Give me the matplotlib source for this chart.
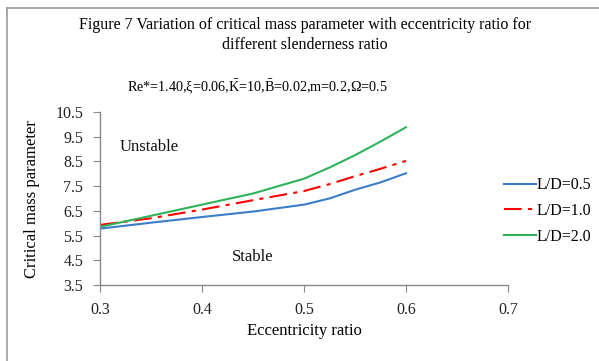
import matplotlib
matplotlib.use("Agg")
import matplotlib.pyplot as plt
from matplotlib.lines import Line2D

plt.rcParams['font.family'] = ['Liberation Serif', 'DejaVu Serif']
plt.rcParams['mathtext.fontset'] = 'custom'
plt.rcParams['mathtext.rm'] = 'Liberation Serif'
plt.rcParams['mathtext.it'] = 'Liberation Serif'

# data
ecc = [0.3, 0.35, 0.4, 0.45, 0.5, 0.525, 0.55, 0.575, 0.6]
mass_ld05 = [5.78, 6.02, 6.25, 6.47, 6.75, 7.0, 7.35, 7.65, 8.02]
mass_ld10 = [5.93, 6.2, 6.55, 6.93, 7.3, 7.58, 7.9, 8.2, 8.52]
mass_ld20 = [5.85, 6.3, 6.75, 7.2, 7.8, 8.25, 8.75, 9.3, 9.88]
series_labels = ['L/D=0.5', 'L/D=1.0', 'L/D=2.0']
x_ticks = [0.3, 0.4, 0.5, 0.6, 0.7]
y_ticks = [3.5, 4.5, 5.5, 6.5, 7.5, 8.5, 9.5, 10.5]

fig = plt.figure(figsize=(5.99, 3.61), dpi=100)
ax = fig.add_axes([0.167, 0.2105, 0.681, 0.4795])

ax.plot(ecc, mass_ld05, color='#3B7DC8', lw=1.5, label=series_labels[0])
ax.plot(ecc, mass_ld10, color='#FF0000', lw=1.5, dashes=(8.5, 3, 2, 3), label=series_labels[1])
ax.plot(ecc, mass_ld20, color='#2EB35A', lw=1.5, label=series_labels[2])

ax.set_xlim(0.3, 0.7)
ax.set_ylim(3.5, 10.5)
ax.set_xticks(x_ticks)
ax.set_yticks(y_ticks)
ax.set_xticklabels([f'{v:.1f}' for v in x_ticks])
ax.set_yticklabels([f'{v:.1f}' for v in y_ticks])
for s in ['top', 'right']:
    ax.spines[s].set_visible(False)
for s in ['left', 'bottom']:
    ax.spines[s].set_color('#888888')
    ax.spines[s].set_linewidth(1.0)
ax.tick_params(colors='#888888', labelcolor='#222222', labelsize=11.5, length=5, direction='out')
ax.tick_params(axis='x', pad=7)
ax.tick_params(axis='y', pad=7)

ax.text(0.319, 9.1, 'Unstable', fontsize=12, va='center', color='#111111')
ax.text(0.4295, 4.62, 'Stable', fontsize=12, va='center', color='#111111')

fig.text(0.509, 0.931, 'Figure 7 Variation of critical mass parameter with eccentricity ratio for',
         ha='center', va='center', fontsize=11.5)
fig.text(0.509, 0.875, 'different slenderness ratio', ha='center', va='center', fontsize=11.5)
fig.text(0.429, 0.759, r'Re*=1.40,$\xi$=0.06,$\bar{\mathrm{K}}$=10,$\bar{\mathrm{B}}$=0.02,m=0.2,$\Omega$=0.5',
         ha='center', va='center', fontsize=10.2)

fig.text(0.0526, 0.449, 'Critical mass parameter', rotation=90, ha='center', va='center', fontsize=12)
ax.set_xlabel('Eccentricity ratio', fontsize=12, labelpad=4)

fig.legend(loc='center left', bbox_to_anchor=(496 / 599, 1 - 211 / 361), frameon=False, fontsize=11.5,
           borderpad=0, handlelength=2.0, handletextpad=0.05, labelspacing=0.6)

# outer frame
fig.add_artist(Line2D([6.5 / 599, 6.5 / 599], [0, 1 - 7.5 / 361], transform=fig.transFigure,
                      color='#9A9A9A', lw=1.2))
fig.add_artist(Line2D([6.5 / 599, 1], [1 - 7.5 / 361, 1 - 7.5 / 361], transform=fig.transFigure,
                      color='#9A9A9A', lw=1.2))

fig.savefig('out.png', dpi=100)
